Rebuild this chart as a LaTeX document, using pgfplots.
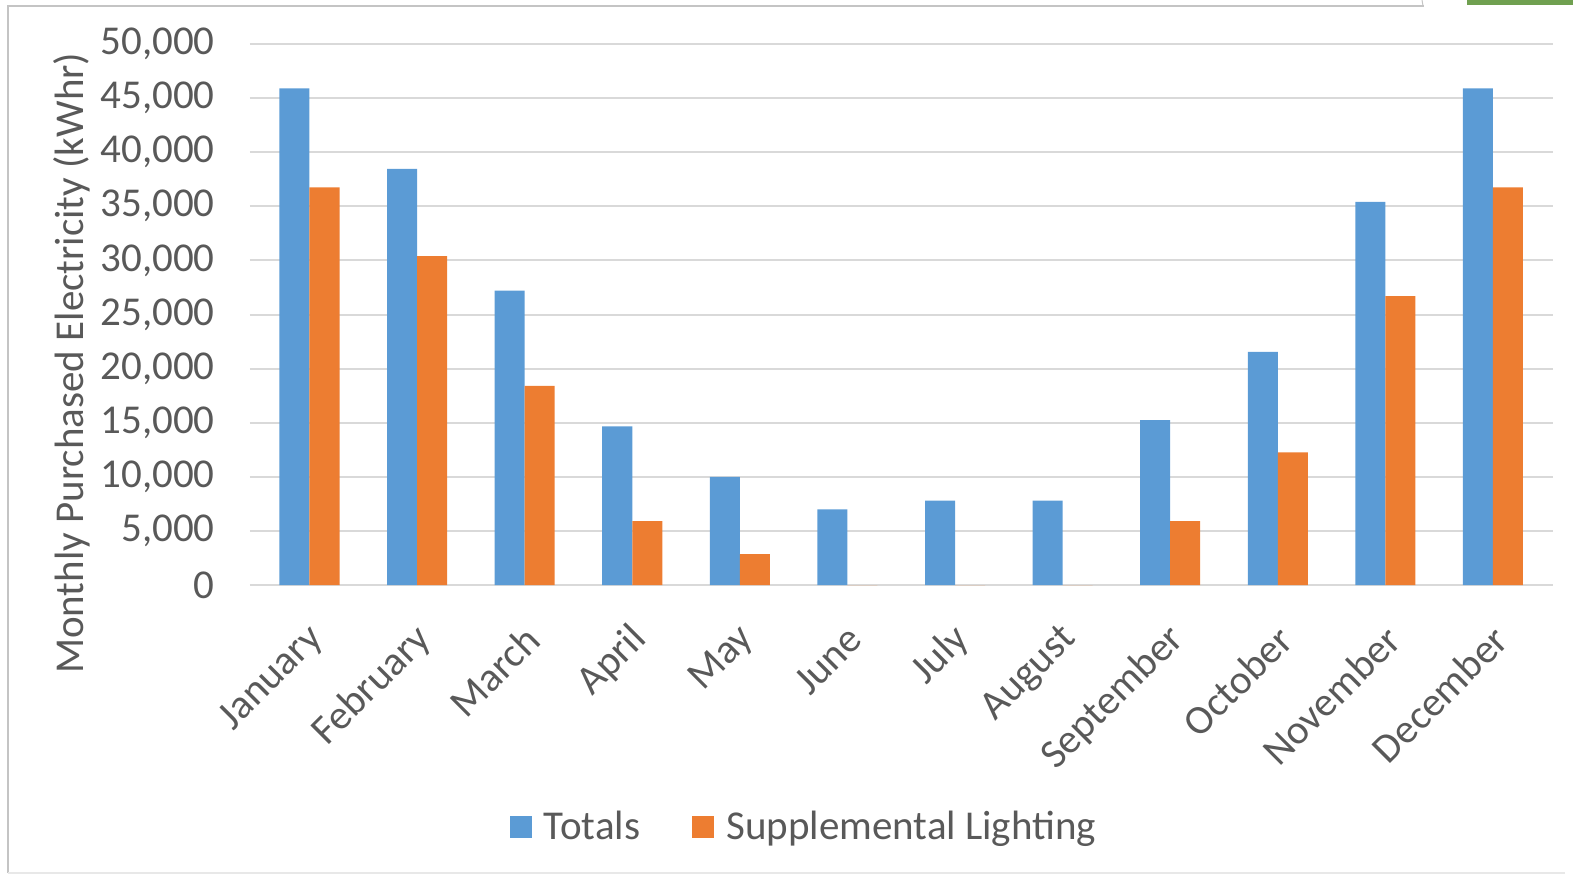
\documentclass[border=0pt]{standalone}
\usepackage{pgfplots}
\pgfplotsset{compat=1.18}
\usepackage{fontspec}
\setmainfont{Carlito}

\definecolor{xlblue}{HTML}{5B9BD5}
\definecolor{xlorange}{HTML}{ED7D31}
\definecolor{xlgrid}{HTML}{D9D9D9}
\definecolor{xltext}{HTML}{595959}
\definecolor{framegray}{HTML}{C4C4C4}
\definecolor{tabgreen}{HTML}{70A050}

\begin{document}
\begin{tikzpicture}[x=1pt,y=1pt]
% page size
\path[use as bounding box] (-125,-146.5) rectangle (661.5,292.5);
\begin{axis}[
  at={(0,0)}, anchor=south west,
  scale only axis, width=651.5pt, height=270.5pt,
  font=\fontsize{20.5}{24}\selectfont,
  text=xltext,
  ybar=0pt, bar width=0.279,
  xmin=-0.553, xmax=11.558, ymin=0, ymax=50000,
  xtick={0,...,11},
  xticklabels={January,February,March,April,May,June,July,August,September,October,November,December},
  ytick={0,5000,...,50000},
  /pgf/number format/.cd, assume math mode=true, 1000 sep={,}, fixed, /pgfplots/.cd,
  scaled y ticks=false,
  ymajorgrids, major grid style={xlgrid, line width=1pt},
  axis line style={draw=none},
  major tick length=0pt,
  xticklabel style={xshift=4pt, yshift=-24pt, rotate=45, anchor=east, inner sep=0pt, text=xltext},
  yticklabel style={anchor=east, inner sep=0pt, xshift=-17.5pt, text=xltext},
  ylabel={Monthly Purchased Electricity (kWhr)},
  ylabel style={at={(rel axis cs:-0.1366,0.41)}, anchor=center, text=xltext},
  legend style={at={(rel axis cs:0.426,-0.447)}, anchor=center, draw=none, fill=none,
    legend columns=2, text=xltext,
    /tikz/every odd column/.append style={column sep=4pt},
    /tikz/every even column/.append style={column sep=24pt}},
  legend image code/.code={\fill[#1] (0pt,-5.5pt) rectangle (11pt,5.5pt);},
]
\addplot[fill=xlblue, draw=none] coordinates {
  (0,45900) (1,38450) (2,27200) (3,14650) (4,10000) (5,7000)
  (6,7800) (7,7800) (8,15250) (9,21550) (10,35400) (11,45900)};
\addplot[fill=xlorange, draw=none] coordinates {
  (0,36750) (1,30400) (2,18400) (3,5900) (4,2850) (5,0)
  (6,0) (7,0) (8,5900) (9,12250) (10,26700) (11,36750)};
\legend{Totals, Supplemental Lighting}
\end{axis}
% window frame around the chart
\draw[framegray, line width=1pt] (-121,-144) -- (-121,289.5) -- (587,289.5);
\draw[xlgrid!60, line width=0.75pt] (-121,-144) -- (657.5,-144);
\fill[tabgreen] (608.5,290.2) rectangle (661.5,292.5);
\draw[framegray, line width=0.5pt] (586,292.5) -- (586.5,289.5);
\end{tikzpicture}
\end{document}
